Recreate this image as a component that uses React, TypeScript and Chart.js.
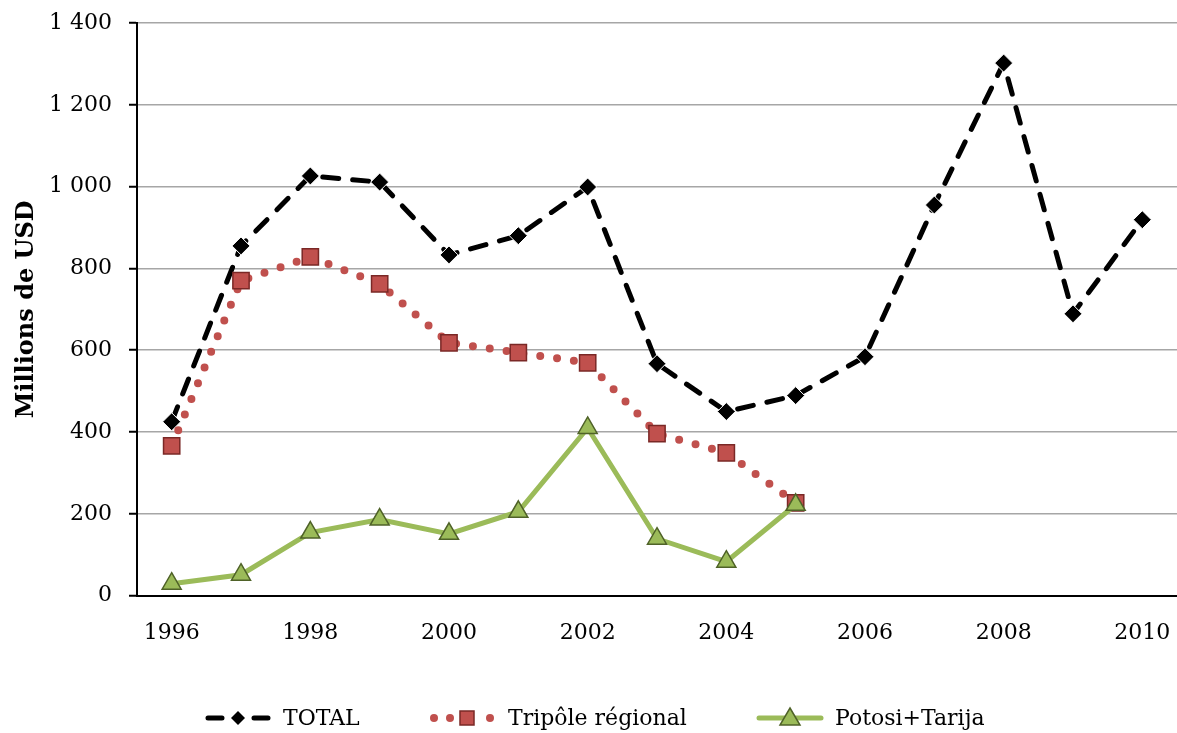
import React, { useEffect, useRef } from "react";
import { Chart, registerables } from "chart.js";

Chart.register(...registerables);

const years = ["1996", "1997", "1998", "1999", "2000", "2001", "2002", "2003", "2004", "2005", "2006", "2007", "2008", "2009", "2010"];
const totalValues = [425, 855, 1026, 1011, 833, 880, 999, 567, 450, 489, 584, 955, 1302, 689, 919];
const tripoleValues = [366, 770, 828, 762, 618, 594, 569, 396, 349, 227, null, null, null, null, null];
const potosiValues = [29, 51, 154, 186, 151, 205, 410, 139, 83, 222, null, null, null, null, null];
const seriesNames = ["TOTAL", "Tripôle régional", "Potosi+Tarija"];
const yAxisTitle = "Millions de USD";
const yMax = 1400;
const yStep = 200;

const RED = "#c0504d";
const RED_DARK = "#7a2826";
const GREEN = "#9bbb59";
const GREEN_DARK = "#4f6228";
const FONT = '"DejaVu Serif", "Liberation Serif", serif';
const LEGEND_STARTS = [205, 430, 757];

function fmt(v: number): string {
  if (v >= 1000) {
    const t = Math.floor(v / 1000);
    return `${t} ${String(v % 1000).padStart(3, "0")}`;
  }
  return String(v);
}

function diamond(ctx: CanvasRenderingContext2D, x: number, y: number, r: number) {
  ctx.beginPath();
  ctx.moveTo(x, y - r);
  ctx.lineTo(x + r, y);
  ctx.lineTo(x, y + r);
  ctx.lineTo(x - r, y);
  ctx.closePath();
}

function drawSample(ctx: CanvasRenderingContext2D, i: number, x: number, y: number, w: number) {
  ctx.save();
  ctx.lineCap = "round";
  if (i === 0) {
    ctx.strokeStyle = "#000";
    ctx.lineWidth = 5;
    ctx.beginPath();
    ctx.moveTo(x + 3, y);
    ctx.lineTo(x + 17, y);
    ctx.moveTo(x + w - 17, y);
    ctx.lineTo(x + w - 3, y);
    ctx.stroke();
    ctx.fillStyle = "#000";
    diamond(ctx, x + w / 2, y, 7);
    ctx.fill();
  } else if (i === 1) {
    ctx.fillStyle = RED;
    [x + 4, x + 20, x + w - 6].forEach((cx) => {
      ctx.beginPath();
      ctx.arc(cx, y, 4, 0, Math.PI * 2);
      ctx.fill();
    });
    ctx.fillStyle = RED;
    ctx.strokeStyle = RED_DARK;
    ctx.lineWidth = 1.5;
    ctx.fillRect(x + 30, y - 7, 14, 14);
    ctx.strokeRect(x + 30, y - 7, 14, 14);
  } else {
    ctx.strokeStyle = GREEN;
    ctx.lineWidth = 5;
    ctx.beginPath();
    ctx.moveTo(x + 2, y);
    ctx.lineTo(x + w - 2, y);
    ctx.stroke();
    const cx = x + w / 2;
    ctx.beginPath();
    ctx.moveTo(cx, y - 10);
    ctx.lineTo(cx + 10, y + 7);
    ctx.lineTo(cx - 10, y + 7);
    ctx.closePath();
    ctx.fillStyle = GREEN;
    ctx.fill();
    ctx.strokeStyle = GREEN_DARK;
    ctx.lineWidth = 1.5;
    ctx.stroke();
  }
  ctx.restore();
}

const legendPlugin = {
  id: "customLegend",
  afterDraw(chart: any) {
    const ctx: CanvasRenderingContext2D = chart.ctx;
    ctx.save();
    ctx.font = `22px ${FONT}`;
    const sampleW = 66;
    const gapText = 12;
    const y = 718;
    seriesNames.forEach((name, i) => {
      const x = LEGEND_STARTS[i];
      drawSample(ctx, i, x, y, sampleW);
      ctx.fillStyle = "#000";
      ctx.textBaseline = "middle";
      ctx.textAlign = "left";
      ctx.fillText(name, x + sampleW + gapText, y + 1);
    });
    ctx.restore();
  },
};

export default function App() {
  const ref = useRef<HTMLCanvasElement | null>(null);
  useEffect(() => {
    if (!ref.current) return;
    const chart = new Chart(ref.current, {
      type: "line",
      data: {
        labels: years,
        datasets: [
          {
            label: seriesNames[0],
            data: totalValues,
            borderColor: "#000",
            borderWidth: 5,
            borderDash: [16, 14],
            borderCapStyle: "round",
            pointStyle: "rectRot",
            pointRadius: 9,
            pointBackgroundColor: "#000",
            pointBorderColor: "#fff",
            pointBorderWidth: 1,
            tension: 0,
            order: 2,
          },
          {
            label: seriesNames[1],
            data: tripoleValues,
            borderColor: RED,
            borderWidth: 8,
            borderDash: [0, 17],
            borderCapStyle: "round",
            pointStyle: "rect",
            pointRadius: 11.5,
            pointBackgroundColor: RED,
            pointBorderColor: RED_DARK,
            pointBorderWidth: 1.5,
            tension: 0,
            order: 1,
          },
          {
            label: seriesNames[2],
            data: potosiValues,
            borderColor: GREEN,
            borderWidth: 5,
            pointStyle: "triangle",
            pointRadius: 11,
            pointBackgroundColor: GREEN,
            pointBorderColor: GREEN_DARK,
            pointBorderWidth: 1.5,
            tension: 0,
            order: 0,
          },
        ],
      },
      options: {
        animation: false,
        responsive: false,
        layout: { autoPadding: false, padding: { top: 23, right: 0, bottom: 63, left: 12 } },
        plugins: {
          legend: { display: false },
          tooltip: { enabled: false },
        },
        scales: {
          x: {
            offset: true,
            grid: { display: false, drawTicks: false },
            border: { display: true, color: "#000", width: 2 },
            afterFit: (s: any) => {
              s.paddingRight = 0;
              s.paddingLeft = 0;
            },
            ticks: {
              autoSkip: false,
              maxRotation: 0,
              padding: 24,
              color: "#000",
              font: { family: FONT, size: 22 },
              callback: function (this: any, _v: any, i: number) {
                return i % 2 === 0 ? years[i] : "";
              },
            },
          },
          y: {
            min: 0,
            max: yMax,
            afterFit: (s: any) => {
              s.width = 125;
              s.paddingTop = 0;
              s.paddingBottom = 0;
            },
            ticks: {
              stepSize: yStep,
              padding: 17,
              color: "#000",
              font: { family: FONT, size: 22 },
              callback: (v: any) => fmt(Number(v)),
            },
            grid: { color: "#a6a6a6", lineWidth: 1.5, tickLength: 8, tickColor: "#000", tickWidth: 2 },
            border: { display: true, color: "#000", width: 2 },
            title: {
              display: true,
              text: yAxisTitle,
              color: "#000",
              font: { family: FONT, size: 24, weight: "bold" },
              padding: { top: 0, bottom: 8 },
            },
          },
        },
      },
      plugins: [legendPlugin],
    });
    return () => chart.destroy();
  }, []);
  return (
    <div style={{ position: "absolute", left: 0, top: 0, width: 1177, height: 733, background: "#fff" }}>
      <canvas ref={ref} width={1177} height={733} />
    </div>
  );
}
